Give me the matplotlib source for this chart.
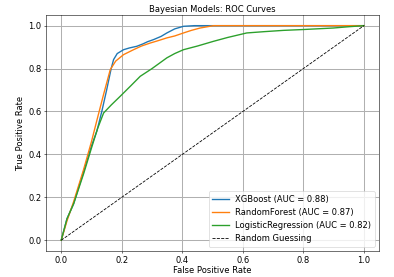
import matplotlib
matplotlib.use("Agg")
import matplotlib.pyplot as plt

# ROC curve points
xgb_fpr = [0.0, 0.019, 0.041, 0.074, 0.10, 0.118, 0.134, 0.15, 0.165, 0.173, 0.185, 0.206, 0.225, 0.25, 0.27, 0.285, 0.305, 0.33, 0.349, 0.375, 0.404, 0.44, 0.47, 0.6, 0.8, 1.0]
xgb_tpr = [0.0, 0.10, 0.17, 0.32, 0.44, 0.51, 0.60, 0.70, 0.80, 0.842, 0.87, 0.888, 0.896, 0.904, 0.915, 0.925, 0.935, 0.95, 0.966, 0.985, 0.997, 1.0, 1.0, 1.0, 1.0, 1.0]

rf_fpr = [0.0, 0.019, 0.041, 0.074, 0.10, 0.118, 0.14, 0.162, 0.18, 0.206, 0.239, 0.265, 0.294, 0.32, 0.349, 0.375, 0.404, 0.43, 0.459, 0.503, 0.6, 0.8, 1.0]
rf_tpr = [0.0, 0.09, 0.18, 0.33, 0.46, 0.56, 0.68, 0.795, 0.835, 0.865, 0.888, 0.905, 0.919, 0.93, 0.943, 0.952, 0.966, 0.978, 0.989, 1.0, 1.0, 1.0, 1.0]

lr_fpr = [0.0, 0.019, 0.041, 0.074, 0.10, 0.12, 0.14, 0.165, 0.195, 0.23, 0.261, 0.3, 0.349, 0.375, 0.404, 0.45, 0.503, 0.55, 0.613, 0.67, 0.734, 0.8, 0.899, 0.95, 1.0]
lr_tpr = [0.0, 0.10, 0.17, 0.31, 0.43, 0.52, 0.593, 0.63, 0.671, 0.72, 0.764, 0.80, 0.85, 0.87, 0.888, 0.905, 0.927, 0.945, 0.966, 0.972, 0.978, 0.982, 0.989, 0.995, 1.0]

chance = [0.0, 1.0]

labels = ["XGBoost (AUC = 0.88)", "RandomForest (AUC = 0.87)", "LogisticRegression (AUC = 0.82)", "Random Guessing"]

plt.rcParams["font.size"] = 12.3
fig = plt.figure(figsize=(8, 5.625), dpi=49.25)
ax = fig.add_axes([0.117, 0.094, 0.845, 0.852])
ax.plot(xgb_fpr, xgb_tpr, color="#1f77b4", lw=2, label=labels[0])
ax.plot(rf_fpr, rf_tpr, color="#ff7f0e", lw=2, label=labels[1])
ax.plot(lr_fpr, lr_tpr, color="#2ca02c", lw=2, label=labels[2])
ax.plot(chance, chance, color="black", ls="--", lw=1.2, label=labels[3])
ax.set_xlabel("False Positive Rate", labelpad=2)
ax.set_ylabel("True Positive Rate")
ax.set_title("Bayesian Models: ROC Curves", fontsize=12.3, pad=4)
ax.grid(True, color="#b0b0b0", lw=1.5)
ax.legend(loc="lower right")
fig.savefig("out.png", dpi=49.25)
